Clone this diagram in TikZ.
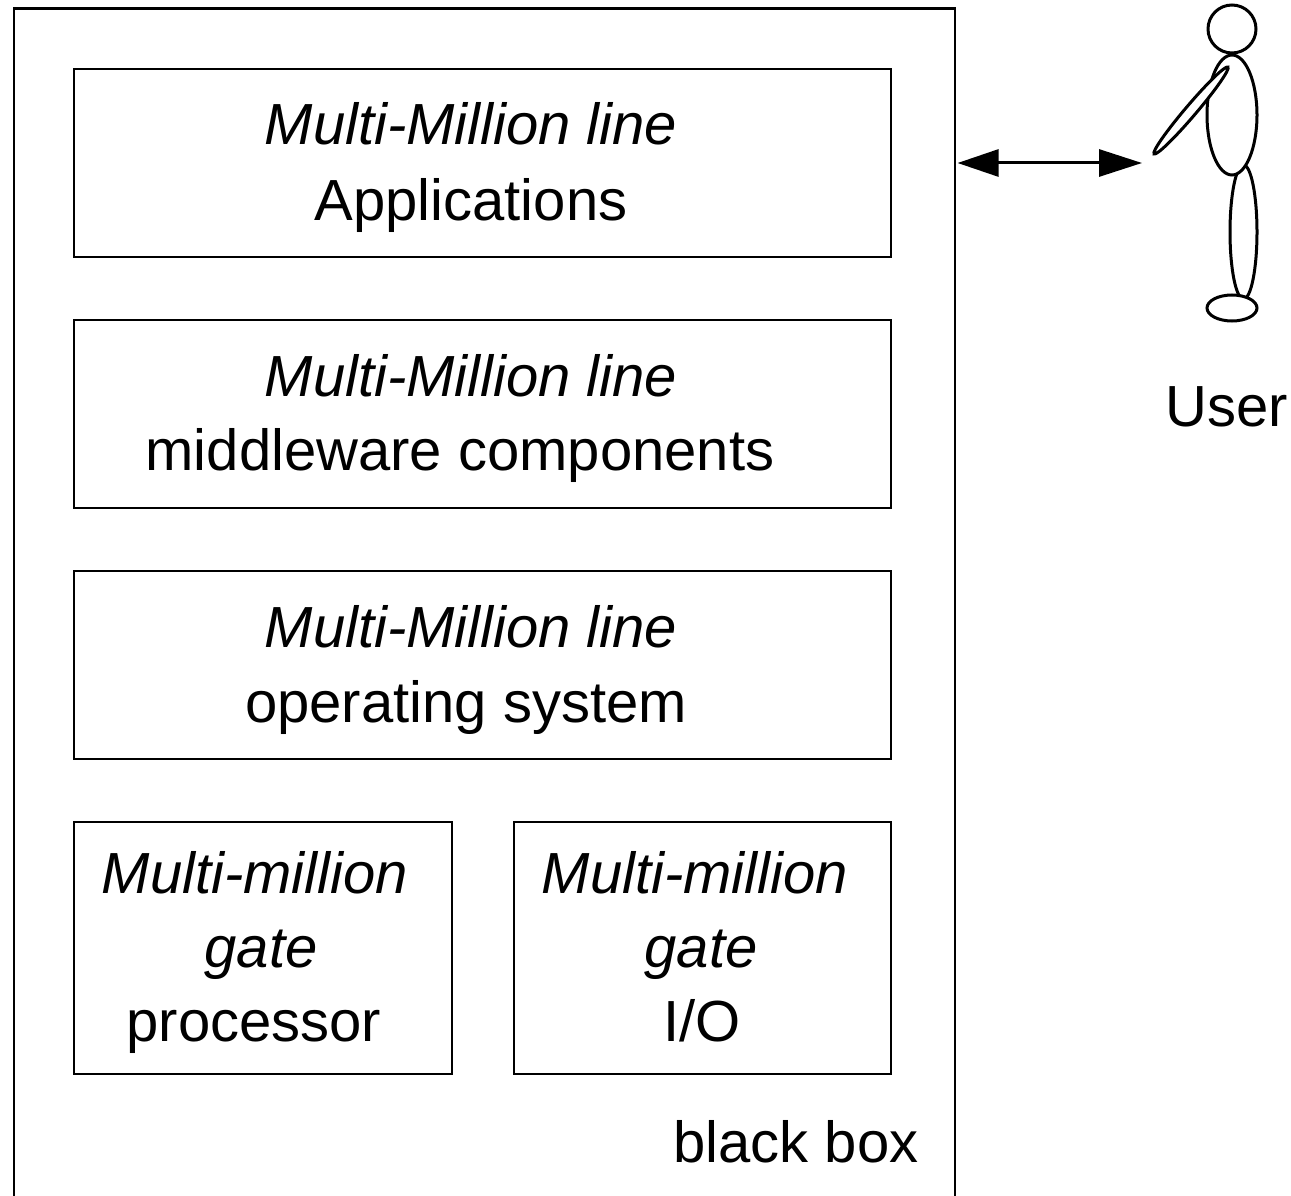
\documentclass[tikz,border=0pt]{standalone}
\usepackage{fontspec}
\setmainfont{Liberation Sans}
\usetikzlibrary{arrows.meta}
\begin{document}
\begin{tikzpicture}[x=1pt,y=-1pt,
  box/.style={draw=black, line width=2.6pt, inner sep=0pt, fill=none},
  lbl/.style={inner sep=0pt, anchor=base, font=\fontsize{58}{75}\selectfont},
  ilbl/.style={lbl, font=\fontsize{58}{75}\selectfont\itshape},
  limb/.style={draw=black, line width=3pt, fill=white},
  dblarrow/.style={line width=3pt, {Triangle[length=41pt,width=27pt]}-{Triangle[length=43pt,width=27pt]}}
]
\path[use as bounding box, clip] (0,0) rectangle (1291,1196);
\fill[white] (0,0) rectangle (1291,1196);

% outer black box (runs past the bottom edge)
\node[box, minimum width=941pt, minimum height=1300pt, anchor=north west] (bb) at (12.5,7) {};

% layers
\node[box, minimum width=817pt, minimum height=188pt] (app) at (482.5,163) {};
\node[box, minimum width=817pt, minimum height=188pt] (mid) at (482.5,414) {};
\node[box, minimum width=817pt, minimum height=188pt] (os)  at (482.5,665) {};
\node[box, minimum width=378pt, minimum height=252pt] (cpu) at (263,948) {};
\node[box, minimum width=377pt, minimum height=252pt] (io)  at (702.5,948) {};

\node[ilbl] (app1) at (471,145) {Multi-Million line};
\node[lbl]  (app2) at (471,220) {Applications};
\node[ilbl] (mid1) at (471,396) {Multi-Million line};
\node[lbl]  (mid2) at (460,470) {middleware components};
\node[ilbl] (os1)  at (471,647) {Multi-Million line};
\node[lbl]  (os2)  at (466,722) {operating system};
\node[ilbl] (cpu1) at (255,893) {Multi-million};
\node[ilbl] (cpu2) at (261,967) {gate};
\node[lbl]  (cpu3) at (254,1041) {processor};
\node[ilbl] (io1)  at (695,893) {Multi-million};
\node[ilbl] (io2)  at (701,967) {gate};
\node[lbl]  (io3)  at (702,1041) {I/O};
\node[lbl]  (bbl)  at (796,1162) {black box};

% user figure
\draw[limb] (1243.5,232) ellipse [x radius=13.5pt, y radius=67pt];
\draw[limb] (1232,308) ellipse [x radius=25pt, y radius=13pt];
\draw[limb] (1232,115) ellipse [x radius=25pt, y radius=60pt];
\draw[limb, rotate around={49.6:(1191,110.5)}] (1191,110.5) ellipse [x radius=57pt, y radius=5.5pt];
\draw[limb] (1232,29) circle [radius=24pt];
\coordinate (hand) at (1142,163);
\node[lbl] (user) at (1227,426) {User};

% interaction arrow
\draw[dblarrow] ([xshift=1.5pt]bb.east |- app.center) -- (hand);
\end{tikzpicture}
\end{document}
